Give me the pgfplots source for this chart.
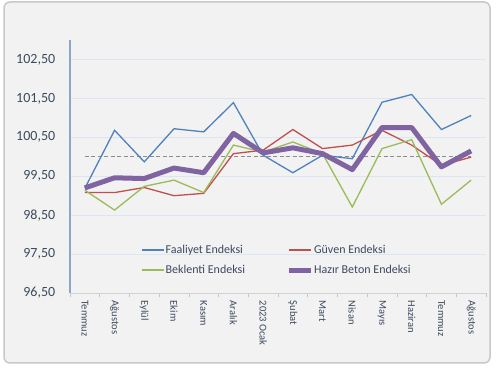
\documentclass[border=0pt]{standalone}
\usepackage{pgfplots}
\pgfplotsset{compat=1.18}
\usepackage{fontspec}
\setmainfont{Carlito}
\definecolor{bgc}{HTML}{F2F2F2}
\definecolor{frame}{HTML}{C8C8C8}
\definecolor{gridc}{HTML}{DCE6F2}
\definecolor{axc}{HTML}{8EA5C3}
\definecolor{txt}{HTML}{3B4A5E}
\definecolor{cblue}{HTML}{4F81BD}
\definecolor{cred}{HTML}{C0504D}
\definecolor{cgreen}{HTML}{9BBB59}
\definecolor{cpurple}{HTML}{8064A2}
\definecolor{dashc}{HTML}{8C8C8C}
\begin{document}
\begin{tikzpicture}[x=1pt,y=1pt]
\fill[white] (0,0) rectangle (500,371);
\draw[frame, line width=1.5pt, fill=bgc, rounded corners=6pt] (4,8) rectangle (490,369);
\begin{axis}[
  at={(70pt,78pt)}, anchor=south west,
  scale only axis, width=416pt, height=253pt,
  xmin=-0.5, xmax=13.5, ymin=96.5, ymax=103,
  axis x line=bottom, axis y line=left,
  x axis line style={-, draw=gray!35, line width=0.8pt},
  y axis line style={-, draw=axc, line width=1.3pt},
  ytick={96.5,97.5,98.5,99.5,100.5,101.5,102.5},
  ymajorgrids, grid style={gridc, line width=0.6pt},
  major y tick style={draw=none},
  /pgf/number format/.cd, fixed, fixed zerofill, precision=2, use comma, 1000 sep={}, assume math mode=true,
  /pgfplots/.cd,
  yticklabel style={font=\fontsize{14}{16}\selectfont, text=txt, xshift=-7pt},
  xtick={0,...,13},
  xticklabels={Temmuz,Ağustos,Eylül,Ekim,Kasım,Aralık,2023 Ocak,Şubat,Mart,Nisan,Mayıs,Haziran,Temmuz,Ağustos},
  xticklabel style={rotate=-90, anchor=west, font=\fontsize{10.5}{12}\selectfont, text=txt},
  major x tick style={draw=none},
  minor xtick={-0.5,0.5,...,13.5},
  minor x tick style={draw=gray!45, line width=0.6pt},
  tick align=outside, minor tick length=4pt,
  legend columns=2,
  legend cell align=left,
  legend style={draw=none, fill=none, at={(0.163,0.205)}, anchor=north west,
    font=\fontsize{12}{14}\selectfont, row sep=6pt,
    /tikz/every even column/.append style={column sep=40pt},
    nodes={inner xsep=1pt}},
  legend image code/.code={\draw[#1] (0pt,0pt) -- (22pt,0pt);},
]
\addlegendimage{cblue, line width=1.6pt}
\addlegendentry{\textcolor{txt}{Faaliyet Endeksi}}
\addlegendimage{cred, line width=1.6pt}
\addlegendentry{\textcolor{txt}{Güven Endeksi}}
\addlegendimage{cgreen, line width=1.6pt}
\addlegendentry{\textcolor{txt}{Beklenti Endeksi}}
\addlegendimage{cpurple, line width=5pt}
\addlegendentry{\textcolor{txt}{Hazır Beton Endeksi}}
\addplot[dashc, dash pattern=on 4pt off 2.5pt, line width=1.2pt, forget plot] coordinates {(0,100) (13,100)};
\addplot[cblue, line width=1.3pt, forget plot] coordinates {
(0,99.19) (1,100.68) (2,99.87) (3,100.72) (4,100.64) (5,101.39) (6,100.04) (7,99.59) (8,100.04) (9,99.95) (10,101.40) (11,101.60) (12,100.70) (13,101.06)};
\addplot[cred, line width=1.3pt, forget plot] coordinates {
(0,99.08) (1,99.08) (2,99.21) (3,99.00) (4,99.06) (5,100.08) (6,100.17) (7,100.70) (8,100.21) (9,100.30) (10,100.68) (11,100.30) (12,99.78) (13,99.99)};
\addplot[cgreen, line width=1.3pt, forget plot] coordinates {
(0,99.14) (1,98.63) (2,99.24) (3,99.40) (4,99.08) (5,100.30) (6,100.12) (7,100.38) (8,100.08) (9,98.71) (10,100.21) (11,100.44) (12,98.78) (13,99.40)};
\addplot[cpurple, line width=5pt, line join=round, forget plot] coordinates {
(0,99.20) (1,99.46) (2,99.44) (3,99.71) (4,99.59) (5,100.60) (6,100.10) (7,100.23) (8,100.08) (9,99.67) (10,100.75) (11,100.75) (12,99.74) (13,100.15)};
\end{axis}
\end{tikzpicture}
\end{document}
